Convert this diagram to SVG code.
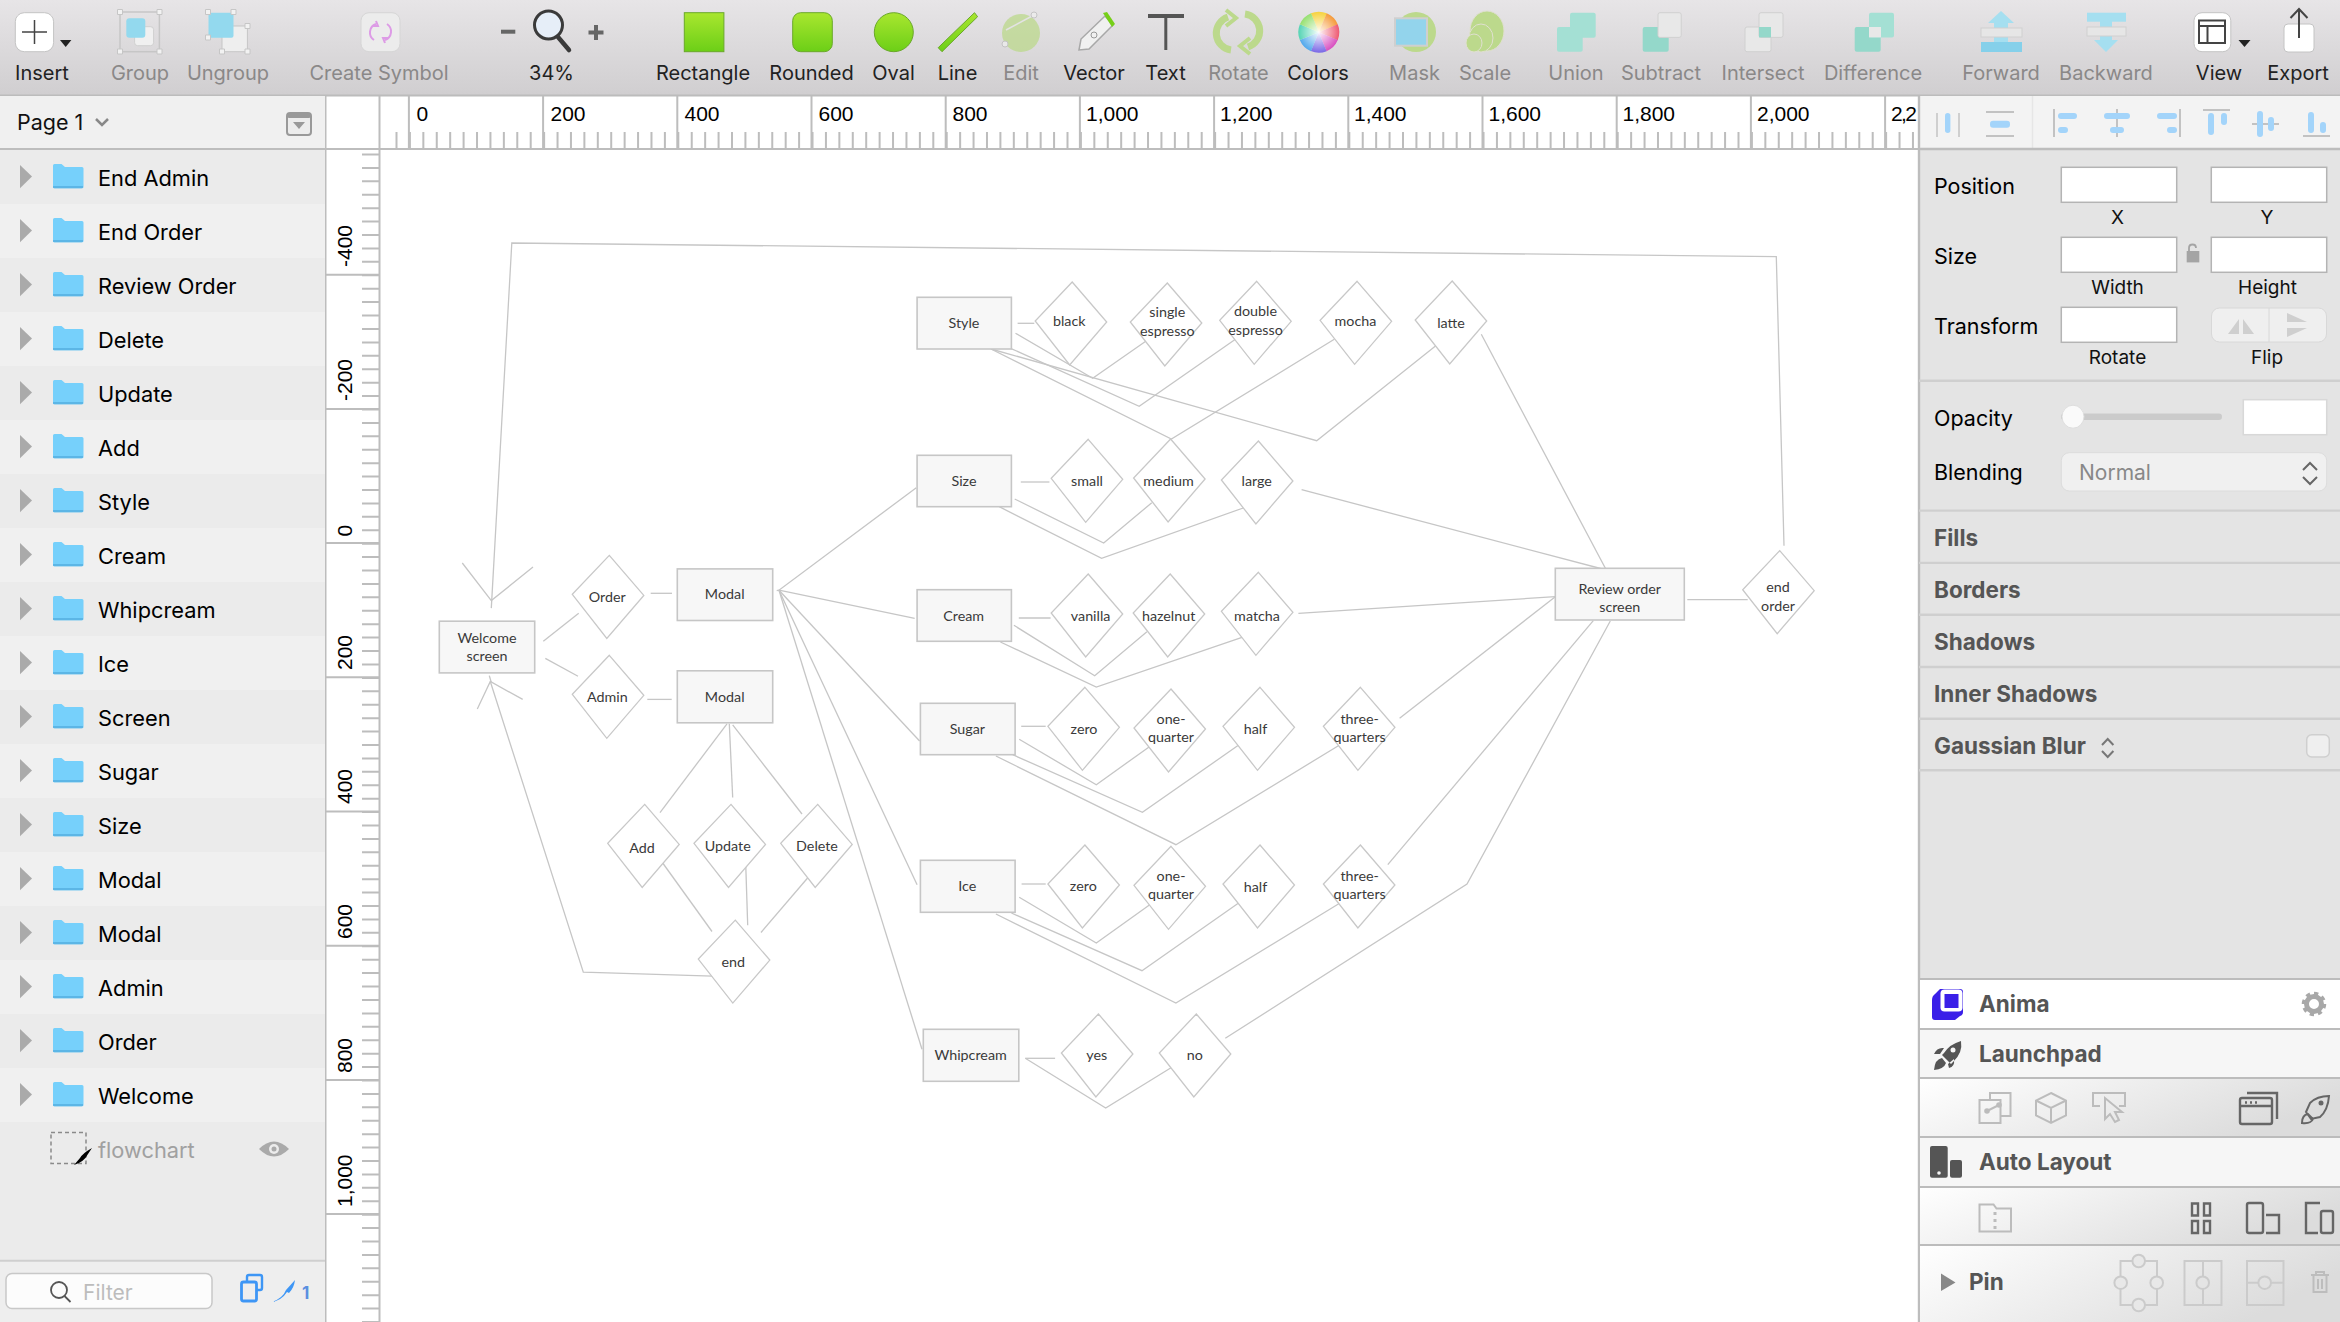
<svg xmlns="http://www.w3.org/2000/svg" width="2340" height="1322" viewBox="0 0 2340 1322">
<style>
.ui{font-family:Inter,"Noto Sans","Liberation Sans",sans-serif}
.tb{font-size:20px;fill:#222;text-anchor:middle}
.tbd{font-size:20px;fill:#8a8888;text-anchor:middle}
.rl{font-family:"Liberation Sans",Arial,sans-serif;font-size:21px;fill:#000}
.ly{font-size:21.800px;fill:#000}
.lb{font-size:21.500px;fill:#000}
.sm{font-size:19px;fill:#111;text-anchor:middle}
.hd{font-size:22.500px;font-weight:700;fill:#555}
.tick{stroke:#bdbdbd;stroke-width:2;fill:none}
.div{stroke:#cfcfcf;stroke-width:2.400}
.inp{fill:#fff;stroke:#b4b4b4;stroke-width:1.500}
.ic{fill:none;stroke:#bcbcbc;stroke-width:2}
.icd{fill:none;stroke:#666;stroke-width:2.400}
.al{fill:#a3d4fa}
.ag{fill:#c2c2c2}
.cn{fill:none;stroke:#c6c6c6;stroke-width:1.300}
.nr{fill:#f7f7f7;stroke:#c6c6c6;stroke-width:1.600}
.nd{fill:#fff;stroke:#c8c8c8;stroke-width:1.300}
.nt{font-family:Lato,"Noto Sans",sans-serif;font-size:14.300px;font-weight:400;fill:#3a3a3a;text-anchor:middle;transform:translateY(.7px)}
</style>
<defs>
<linearGradient id="gTool" x1="0" y1="0" x2="0" y2="1"><stop offset="0" stop-color="#e7e5e7"/><stop offset="1" stop-color="#d0ced0"/></linearGradient>
<linearGradient id="gGreen" x1="0" y1="0" x2="0" y2="1"><stop offset="0" stop-color="#a9e62f"/><stop offset="1" stop-color="#6ccf17"/></linearGradient>
<linearGradient id="gFade" x1="0" y1="0" x2="1" y2="0.35"><stop offset="0" stop-color="#fff"/><stop offset="1" stop-color="#dcdcdc"/></linearGradient>
<radialGradient id="gWhite"><stop offset="0" stop-color="#fff" stop-opacity=".95"/><stop offset="1" stop-color="#fff" stop-opacity="0"/></radialGradient>
<g id="folder"><path d="M53 187.500V165.500q0-1.500 1.500-1.500h7l3.500 3h17q1.500 0 1.500 1.500V187q0 1.300-1.500 1.300H54.500q-1.500 0-1.500-.8z" fill="#76d0fb"/><path d="M53 186h30v1.500q0 .8-1.500.8H54.500q-1.500 0-1.500-.8z" fill="#5cb6e6"/></g>
<g id="row"><path d="M20 165l12 11.500-12 11.700z" fill="#aaa"/><use href="#folder"/></g>
<polygon id="d" points="0,0 34.500,40 -2.500,83 -37,39"/>
</defs>

<g id="canvas-bg"><rect width="2340" height="1322" fill="#fff"/></g>

<g id="toolbar">
<rect width="2340" height="96" fill="url(#gTool)"/>
<line x1="0" y1="95.500" x2="2340" y2="95.500" stroke="#bcbcbc" stroke-width="2"/>
<rect x="15.300" y="12.700" width="38.300" height="39" rx="9" fill="#fff" stroke="#c4c4c4"/>
<path d="M34.500 20v24M22 32h25" stroke="#444" stroke-width="1.500"/>
<path d="M60 40h11.400l-5.700 7z" fill="#222"/>
<g id="ic-group">
<rect x="120" y="12" width="39.400" height="39.700" fill="none" stroke="#c6c6c6" stroke-width="1.500"/>
<path d="M117.500 9.500h5v5h-5zM157 9.500h5v5h-5zM117.500 49h5v5h-5zM157 49h5v5h-5z" fill="#f2f2f2" stroke="#c6c6c6"/>
<rect x="134.600" y="26.700" width="19" height="19" rx="3" fill="#f0f0f0" stroke="#d0d0d0"/>
<rect x="126.300" y="18.300" width="19" height="19.400" rx="3" fill="#93d9ee"/>
</g>
<g id="ic-ungroup">
<rect x="222" y="26" width="25.400" height="25.700" fill="#eee" stroke="#c6c6c6"/>
<rect x="208.500" y="12.700" width="25" height="25" rx="2" fill="#93d9ee"/>
<path d="M205.500 9.500h5v5h-5zM231 9.500h5v5h-5zM205.500 35h5v5h-5zM245 23.500h5v5h-5zM219.500 49h5v5h-5zM245 49h5v5h-5z" fill="#f2f2f2" stroke="#c6c6c6"/>
</g>
<rect x="361" y="12.700" width="39" height="39" rx="8" fill="#ececec" stroke="#d6d6d6"/>
<path d="M376 24a9 9 0 0 0-2 16M385 40a9 9 0 0 0 2-16M372 26h6l-2-5M389 38h-6l2 5" fill="none" stroke="#dd9be6" stroke-width="2"/>
<path d="M501 31.700h14.300" stroke="#666" stroke-width="4"/>
<circle cx="548.500" cy="25" r="14" fill="#e6eef8" stroke="#3a3a3a" stroke-width="3"/>
<path d="M558 37l11 13" stroke="#3a3a3a" stroke-width="4.500" stroke-linecap="round"/>
<path d="M596 25v15M588.500 32.500h15" stroke="#666" stroke-width="4"/>
<rect x="684.300" y="12.700" width="39.600" height="39" fill="url(#gGreen)" stroke="#6aa82a"/>
<rect x="792.700" y="12.700" width="39.600" height="39" rx="8" fill="url(#gGreen)" stroke="#6aa82a"/>
<ellipse cx="893.800" cy="32.200" rx="19.500" ry="19.500" fill="url(#gGreen)" stroke="#6aa82a"/>
<path d="M974.500 12.700l3.100 4-35.600 35-3.800-4z" fill="url(#gGreen)" stroke="#6aa82a"/>
<g id="ic-edit" opacity=".75"><ellipse cx="1021" cy="33" rx="19" ry="19" fill="#bcd98c"/><path d="M1034 15L1006 30" stroke="#e4e4e4" stroke-width="1.500"/><circle cx="1034" cy="15" r="3" fill="#eee" stroke="#bbb"/><circle cx="1005" cy="44" r="3" fill="#eee" stroke="#bbb"/></g>
<g id="ic-vector"><path d="M1105 16l8 9-24 24-10 1 2-11z" fill="#f0f0f0" stroke="#a8a8a8" stroke-width="1.500"/><path d="M1103 13l4-1 8 12-3 3z" fill="#76cf18"/><circle cx="1094" cy="35" r="3" fill="none" stroke="#999"/></g>
<path d="M1148 16h36" stroke="#555" stroke-width="4"/><path d="M1165.800 16v34" stroke="#555" stroke-width="3"/>
<g id="ic-rotate" fill="none" stroke="#bcd98c" stroke-width="7"><path d="M1228 17a17 17 0 0 0 3 33"/><path d="M1248 47a17 17 0 0 0-3-33"/><path d="M1226 10l10 8-10 8M1250 38l-10 8 10 8" stroke-width="4"/></g>
<g id="ic-colors">
<g fill="none" stroke-width="20.500">
<circle cx="1318.800" cy="32.200" r="10.250" stroke="#f6d23c" stroke-dasharray="8.050 56.350" transform="rotate(-112.500 1318.800 32.200)"/>
<circle cx="1318.800" cy="32.200" r="10.250" stroke="#f59a3a" stroke-dasharray="8.050 56.350" transform="rotate(-67.500 1318.800 32.200)"/>
<circle cx="1318.800" cy="32.200" r="10.250" stroke="#ee5a72" stroke-dasharray="8.050 56.350" transform="rotate(-22.500 1318.800 32.200)"/>
<circle cx="1318.800" cy="32.200" r="10.250" stroke="#d84fc0" stroke-dasharray="8.050 56.350" transform="rotate(22.500 1318.800 32.200)"/>
<circle cx="1318.800" cy="32.200" r="10.250" stroke="#7a68e6" stroke-dasharray="8.050 56.350" transform="rotate(67.500 1318.800 32.200)"/>
<circle cx="1318.800" cy="32.200" r="10.250" stroke="#52a8ec" stroke-dasharray="8.050 56.350" transform="rotate(112.500 1318.800 32.200)"/>
<circle cx="1318.800" cy="32.200" r="10.250" stroke="#55d4b4" stroke-dasharray="8.050 56.350" transform="rotate(157.500 1318.800 32.200)"/>
<circle cx="1318.800" cy="32.200" r="10.250" stroke="#96e070" stroke-dasharray="8.050 56.350" transform="rotate(202.500 1318.800 32.200)"/>
</g>
<circle cx="1318.800" cy="32.200" r="20.500" fill="url(#gWhite)"/>
</g>
<g id="ic-mask"><ellipse cx="1416" cy="32" rx="20" ry="20" fill="#bcd98c"/><rect x="1395" y="18.300" width="32" height="27.400" fill="#93d4ec" stroke="#cfcfcf" stroke-width="2"/></g>
<g id="ic-scale" fill="#bcd98c" stroke="#e0e0d0"><ellipse cx="1487" cy="31" rx="17" ry="20"/><ellipse cx="1481" cy="38" rx="12" ry="14"/><ellipse cx="1474" cy="43" rx="8" ry="9"/></g>
<g id="ic-union" fill="#a4e0d4"><rect x="1570" y="12.700" width="25.700" height="25" rx="2"/><rect x="1557" y="27" width="25.700" height="24.700" rx="2"/></g>
<g id="ic-subtract"><rect x="1642.700" y="27" width="26" height="24.700" rx="2" fill="#94d8ca"/><rect x="1658" y="12.700" width="23.200" height="24.700" rx="2" fill="#e8e8e8" stroke="#d0d0d0"/></g>
<g id="ic-intersect"><rect x="1745" y="27" width="26" height="24.700" rx="2" fill="#e8e8e8" stroke="#d0d0d0"/><rect x="1759" y="12.700" width="24" height="24.700" rx="2" fill="#e8e8e8" stroke="#d0d0d0"/><rect x="1759" y="27" width="12" height="10.400" fill="#94d8ca"/></g>
<g id="ic-difference"><rect x="1854.700" y="27" width="26" height="24.700" rx="2" fill="#94d8ca"/><rect x="1869" y="12.700" width="25" height="24.700" rx="2" fill="#a4e0d4"/><rect x="1869" y="27" width="12" height="10.400" fill="#e8e8e8"/></g>
<g id="ic-forward"><path d="M1994 45h14V23h6l-13-12-13 12h6z" fill="#a5dff0"/><rect x="1981" y="42" width="41" height="10" fill="#85d0ea"/><rect x="1981" y="28" width="41" height="9" fill="#e6e6e6" stroke="#d0d0d0"/></g>
<g id="ic-backward"><path d="M2100 18h12v22h6l-12 12-12-12h6z" fill="#a5dff0"/><rect x="2087" y="12.700" width="39" height="9" fill="#a5dff0"/><rect x="2087" y="27" width="39" height="9" fill="#e6e6e6" stroke="#d0d0d0"/></g>
<rect x="2194" y="12.700" width="36.800" height="39" rx="8" fill="#fff" stroke="#c4c4c4"/>
<path d="M2199 20.500h26V43h-26zM2199 26h26M2207.500 26V43" fill="none" stroke="#444" stroke-width="2"/>
<path d="M2238.500 40h12l-6 7z" fill="#222"/>
<rect x="2284" y="24" width="30" height="28" rx="4" fill="#fff" stroke="#c4c4c4"/>
<path d="M2299 38V10M2290.500 18l8.500-9 8.500 9" fill="none" stroke="#444" stroke-width="2"/>
<g class="ui">
<text x="42" y="79.700" class="tb">Insert</text>
<text x="140" y="79.700" class="tbd">Group</text>
<text x="228" y="79.700" class="tbd">Ungroup</text>
<text x="379" y="79.700" class="tbd">Create Symbol</text>
<text x="551.500" y="79.700" class="tb">34%</text>
<text x="703" y="79.700" class="tb">Rectangle</text>
<text x="811.500" y="79.700" class="tb">Rounded</text>
<text x="893.500" y="79.700" class="tb">Oval</text>
<text x="957.500" y="79.700" class="tb">Line</text>
<text x="1021" y="79.700" class="tbd">Edit</text>
<text x="1094" y="79.700" class="tb">Vector</text>
<text x="1165.500" y="79.700" class="tb">Text</text>
<text x="1238.500" y="79.700" class="tbd">Rotate</text>
<text x="1318" y="79.700" class="tb">Colors</text>
<text x="1414.500" y="79.700" class="tbd">Mask</text>
<text x="1485" y="79.700" class="tbd">Scale</text>
<text x="1576" y="79.700" class="tbd">Union</text>
<text x="1661" y="79.700" class="tbd">Subtract</text>
<text x="1763" y="79.700" class="tbd">Intersect</text>
<text x="1873" y="79.700" class="tbd">Difference</text>
<text x="2001" y="79.700" class="tbd">Forward</text>
<text x="2106" y="79.700" class="tbd">Backward</text>
<text x="2219" y="79.700" class="tb">View</text>
<text x="2298" y="79.700" class="tb">Export</text>
</g>
</g>

<g id="rulers">
<path d="M395.500 140.500H1919" class="tick" style="stroke-width:17" stroke-dasharray="2 11.420"/>
<path d="M370.500 153.500V1322" class="tick" style="stroke-width:17" stroke-dasharray="2 11.420"/>
<path d="M408.900 96v53M543.100 96v53M677.300 96v53M811.500 96v53M945.700 96v53M1079.900 96v53M1214.100 96v53M1348.300 96v53M1482.500 96v53M1616.700 96v53M1750.900 96v53M1885.100 96v53" class="tick"/>
<path d="M325 274.700h54M325 408.900h54M325 543.100h54M325 677.300h54M325 811.500h54M325 945.700h54M325 1079.900h54M325 1214.100h54" class="tick"/>
<path d="M325 149H1919M379.500 96V1322M325.500 96V1322" class="tick"/>
<g class="rl">
<text x="416.500" y="121">0</text><text x="550.500" y="121">200</text><text x="684.500" y="121">400</text><text x="818.500" y="121">600</text><text x="952.500" y="121">800</text>
<text x="1086" y="121">1,000</text><text x="1220" y="121">1,200</text><text x="1354" y="121">1,400</text><text x="1488.500" y="121">1,600</text><text x="1622.500" y="121">1,800</text><text x="1757" y="121">2,000</text>
<text x="1891" y="121" textLength="26">2,2</text>
<text transform="translate(352 267) rotate(-90)">-400</text>
<text transform="translate(352 401) rotate(-90)">-200</text>
<text transform="translate(352 536.500) rotate(-90)">0</text>
<text transform="translate(352 670) rotate(-90)">200</text>
<text transform="translate(352 804) rotate(-90)">400</text>
<text transform="translate(352 939) rotate(-90)">600</text>
<text transform="translate(352 1073) rotate(-90)">800</text>
<text transform="translate(352 1207) rotate(-90)">1,000</text>
</g>
</g>

<g id="layers-panel">
<rect x="0" y="96" width="325" height="1226" fill="#f0f0f0"/>
<path d="M0 149h325" stroke="#bdbdbd" stroke-width="2"/>
<g fill="#ebebeb">
<rect y="150" width="325" height="54"/><rect y="258" width="325" height="54"/><rect y="366" width="325" height="54"/><rect y="474" width="325" height="54"/><rect y="582" width="325" height="54"/><rect y="690" width="325" height="54"/><rect y="798" width="325" height="54"/><rect y="906" width="325" height="54"/><rect y="1014" width="325" height="54"/><rect y="1122" width="325" height="139"/>
</g>
<text class="ui" x="17" y="130" font-size="21.500" fill="#111">Page 1</text>
<path d="M96 119l6 6 6-6" fill="none" stroke="#888" stroke-width="2.500"/>
<rect x="287" y="113" width="24" height="22" rx="3" fill="#ececec" stroke="#999" stroke-width="2"/><rect x="287" y="113" width="24" height="5" rx="2" fill="#999"/><path d="M293 122h12l-6 7z" fill="#999"/>
<use href="#row"/><use href="#row" y="54"/><use href="#row" y="108"/><use href="#row" y="162"/><use href="#row" y="216"/><use href="#row" y="270"/><use href="#row" y="324"/><use href="#row" y="378"/><use href="#row" y="432"/><use href="#row" y="486"/><use href="#row" y="540"/><use href="#row" y="594"/><use href="#row" y="648"/><use href="#row" y="702"/><use href="#row" y="756"/><use href="#row" y="810"/><use href="#row" y="864"/><use href="#row" y="918"/>
<g class="ui">
<text class="ly" x="98" y="185.700">End Admin</text>
<text class="ly" x="98" y="239.700">End Order</text>
<text class="ly" x="98" y="293.700">Review Order</text>
<text class="ly" x="98" y="347.700">Delete</text>
<text class="ly" x="98" y="401.700">Update</text>
<text class="ly" x="98" y="455.700">Add</text>
<text class="ly" x="98" y="509.700">Style</text>
<text class="ly" x="98" y="563.700">Cream</text>
<text class="ly" x="98" y="617.700">Whipcream</text>
<text class="ly" x="98" y="671.700">Ice</text>
<text class="ly" x="98" y="725.700">Screen</text>
<text class="ly" x="98" y="779.700">Sugar</text>
<text class="ly" x="98" y="833.700">Size</text>
<text class="ly" x="98" y="887.700">Modal</text>
<text class="ly" x="98" y="941.700">Modal</text>
<text class="ly" x="98" y="995.700">Admin</text>
<text class="ly" x="98" y="1049.700">Order</text>
<text class="ly" x="98" y="1103.700">Welcome</text>
<text class="ly" x="98" y="1157.700" style="fill:#a0a0a0">flowchart</text>
</g>
<rect x="51" y="1132.500" width="35" height="31" fill="none" stroke="#8a8a8a" stroke-width="1.500" stroke-dasharray="4 3"/>
<path d="M74 1165q10-3 14-11l4-6q-9 5-12 10z" fill="#000"/>
<path d="M259 1149q15-15 30 0q-15 15-30 0z" fill="#aaa"/><circle cx="274" cy="1149" r="5" fill="#ececec"/><circle cx="274" cy="1149" r="2.500" fill="#aaa"/>
<path d="M0 1260.700h325" stroke="#cfcfcf" stroke-width="2"/>
<rect x="0" y="1262" width="325" height="60" fill="#eeeeee"/>
<rect x="6" y="1273.500" width="206" height="35" rx="6" fill="#fcfcfc" stroke="#c8c8c8" stroke-width="1.500"/>
<circle cx="59" cy="1290" r="8" fill="none" stroke="#555" stroke-width="1.800"/><path d="M64.500 1296l6 6" stroke="#555" stroke-width="1.800"/>
<text class="ui" x="83" y="1300" font-size="21" fill="#bcbcbc">Filter</text>
<path d="M247 1282v-5q0-2 2-2h11q2 0 2 2v11q0 2-2 2h-3" fill="none" stroke="#3e96f5" stroke-width="2.400"/><rect x="241.500" y="1282" width="15" height="19" rx="2" fill="none" stroke="#3e96f5" stroke-width="2.800"/>
<path d="M272 1302q11-4 14-12l9-10q-1 8-6 13l-2-1q-5 8-15 10z" fill="#3e96f5"/>
<text class="ui" x="302" y="1299" font-size="17" font-weight="700" fill="#5a8fe0">1</text>
</g>

<g id="inspector">
<rect x="1919" y="96" width="421" height="1226" fill="#e4e4e4"/>
<rect x="1919" y="96" width="421" height="53" fill="#f3f3f3"/>
<path d="M2032.500 96v53" stroke="#e6e6e6" stroke-width="1.500"/>
<path d="M1919 149h421M1919 96v1226" stroke="#bdbdbd" stroke-width="2.400" fill="none"/>
<g id="align-icons">
<rect x="1945" y="113" width="5.400" height="20" rx="2.700" class="al"/><path d="M1937 113v24M1959 113v24" stroke="#c4c4c4" stroke-width="1.500"/>
<rect x="1990" y="120.700" width="20" height="7" rx="3" class="al"/><rect x="1986" y="111" width="28" height="2" class="ag"/><rect x="1986" y="135" width="28" height="2" class="ag"/>
<rect x="2053" y="109" width="2" height="28" class="ag"/><rect x="2058" y="113" width="19" height="6" rx="3" class="al"/><rect x="2058" y="127" width="10" height="6" rx="3" class="al"/>
<rect x="2116" y="109" width="2" height="28" class="ag"/><rect x="2104" y="113" width="26" height="6" rx="3" class="al"/><rect x="2110" y="127" width="14" height="6" rx="3" class="al"/>
<rect x="2179" y="109" width="2" height="28" class="ag"/><rect x="2157" y="113" width="20" height="6" rx="3" class="al"/><rect x="2167" y="127" width="10" height="6" rx="3" class="al"/>
<rect x="2203" y="109" width="27" height="2" class="ag"/><rect x="2208" y="113" width="6" height="22" rx="3" class="al"/><rect x="2221" y="113" width="6" height="12" rx="3" class="al"/>
<rect x="2252" y="123" width="27" height="2" class="ag"/><rect x="2257" y="111" width="6" height="26" rx="3" class="al"/><rect x="2268" y="117" width="6" height="14" rx="3" class="al"/>
<rect x="2303" y="135" width="27" height="2" class="ag"/><rect x="2308" y="112" width="6" height="21" rx="3" class="al"/><rect x="2320" y="122" width="6" height="11" rx="3" class="al"/>
</g>
<rect x="2061.300" y="167.300" width="115.400" height="35" class="inp"/><rect x="2211.300" y="167.300" width="115.400" height="35" class="inp"/>
<rect x="2061.300" y="237.300" width="115.400" height="35" class="inp"/><rect x="2211.300" y="237.300" width="115.400" height="35" class="inp"/>
<rect x="2061.300" y="307.300" width="115.400" height="35" class="inp"/>
<rect x="2211.500" y="308" width="115" height="34" rx="8" fill="#efefef" stroke="#d8d8d8"/><path d="M2269 308v34" stroke="#d8d8d8"/>
<path d="M2228 334l11-15v15zM2254 334l-11-15v15z" fill="#cfcfcf"/><path d="M2287 313l20 9h-20zM2287 337l20-9h-20z" fill="#cfcfcf"/>
<rect x="2186.700" y="251" width="12.600" height="11.400" fill="#a4a4a4"/><path d="M2189 251v-3q0-3.500 3.500-3.500t3.500 3.500" fill="none" stroke="#a4a4a4" stroke-width="1.800"/>
<path d="M1919 380.800h421M1919 510.600h421M1919 562.900h421M1919 614.700h421M1919 667h421M1919 718.800h421M1919 770.200h421" class="div"/>
<rect x="2061" y="413.500" width="161" height="6.500" rx="3.200" fill="#cbcbcb"/>
<ellipse cx="2073" cy="416.700" rx="11" ry="11.500" fill="#fafafa" stroke="#dedede"/>
<rect x="2243.300" y="399.700" width="83.400" height="35" class="inp" style="stroke:#d8d8d8"/>
<rect x="2061.300" y="452.700" width="265.400" height="38.300" rx="8" fill="#f0f0f0" stroke="#dcdcdc"/>
<path d="M2303 470l7-7 7 7M2303 477l7 7 7-7" fill="none" stroke="#666" stroke-width="2"/>
<path d="M2102 745l5.700-6 5.700 6M2102 751l5.700 6 5.700-6" fill="none" stroke="#777" stroke-width="2"/>
<rect x="2306.700" y="734.700" width="22.600" height="22.300" rx="5" fill="#efefef" stroke="#cfcfcf" stroke-width="1.500"/>
<g id="plugins">
<rect x="1920" y="980" width="420" height="49" fill="#fff"/>
<rect x="1920" y="1029" width="420" height="49" fill="#f6f6f6"/>
<rect x="1920" y="1078" width="420" height="59" fill="url(#gFade)"/>
<rect x="1920" y="1137" width="420" height="50" fill="#f6f6f6"/>
<rect x="1920" y="1187" width="420" height="58" fill="url(#gFade)"/>
<rect x="1920" y="1245" width="420" height="77" fill="url(#gFade)"/>
<path d="M1919 979h421M1919 1029h421M1919 1078h421M1919 1137h421M1919 1187h421M1919 1245h421" stroke="#bcbcbc" stroke-width="2"/>
<path d="M1932 1000q0-4 3-6l5-5h20q3 0 3 3v20q0 3-3 4l-5 4h-20q-3 0-3-3z" fill="#3a1fe8"/>
<rect x="1940.500" y="989.500" width="22" height="22" rx="4" fill="#fff"/><rect x="1944.500" y="994" width="14" height="14" fill="#3a1fe8"/>
<circle cx="2314" cy="1004" r="7.500" fill="none" stroke="#a8a8a8" stroke-width="5"/><circle cx="2314" cy="1004" r="10.500" fill="none" stroke="#a8a8a8" stroke-width="3.500" stroke-dasharray="4.200 4"/>
<path d="M1961 1041q2 12-8 21l-2 2-9-9 2-2q6-9 17-12zM1934 1070q1-11 8-12l4 5q-2 6-12 7zM1934 1054q3-7 10-6l-4 6zM1949 1068q6-1 5-9l-6 5z" fill="#555"/><circle cx="1953" cy="1050" r="2.500" fill="#f6f6f6"/>
<rect x="1930" y="1146" width="17.700" height="31.700" rx="2" fill="#555"/><rect x="1950" y="1160" width="12" height="17.700" rx="2" fill="#555"/><circle cx="1939" cy="1173" r="1.800" fill="#f6f6f6"/>
<g id="plugin-row1">
<path d="M1990 1100v-7h20.500v23h-10M1979.500 1100h21v23h-21z" class="ic"/><circle cx="1987" cy="1111" r="2.800" fill="#bcbcbc"/><circle cx="1999" cy="1105" r="2.800" fill="#bcbcbc"/><path d="M1987 1111l12-6" class="ic"/>
<path d="M2051 1093l15 7.500v15l-15 7.500-15-7.500v-15zM2036 1100.500l15 7.500 15-7.500M2051 1108v15" class="ic"/>
<path d="M2100 1106h-7v-13h32v13h-6" class="ic"/><path d="M2105 1098v21l5-5 5 8 4-2-4-8h7z" class="ic"/>
<rect x="2240" y="1098" width="32" height="26" rx="2" class="icd"/><path d="M2240 1106h32M2247 1093h30v26" class="icd"/><path d="M2245 1102.500h2M2250 1102.500h2M2255 1102.500h2" class="icd"/>
<path d="M2329 1096q-1 14-9 21l-9 2-5-7 4-9q7-7 19-7zM2302 1123q0-8 6-9l5 5q-2 5-11 4z" class="icd" style="stroke-width:2"/><circle cx="2321" cy="1103" r="2.500" fill="#666"/>
</g>
<g id="plugin-row2">
<path d="M1979.500 1204.500h14l3 4h14.500v23h-31.500z" class="ic"/><path d="M1995 1212v3M1995 1219v3M1995 1226v3" stroke="#bcbcbc" stroke-width="3"/>
<path d="M2192 1203.500h6v12h-6zM2204 1203.500h6v12h-6zM2192 1221h6v12h-6zM2204 1221h6v12h-6z" class="icd"/>
<rect x="2247" y="1203" width="16" height="30" rx="2" class="icd"/><path d="M2266 1215h13v18h-13" class="icd"/>
<path d="M2320 1203h-14v30h12" class="icd"/><rect x="2321" y="1211" width="12" height="22" rx="2" class="icd"/>
</g>
<path d="M1941 1273.500l14.500 9-14.500 8.500z" fill="#888"/>
<g id="pin-icons" fill="none" stroke="#cbcbcb" stroke-width="2">
<rect x="2120.500" y="1261" width="36.500" height="44"/>
<circle cx="2138.700" cy="1261" r="6.300" fill="#e8e8e8"/><circle cx="2138.700" cy="1305" r="6.300" fill="#e8e8e8"/><circle cx="2120.700" cy="1282.700" r="6.300" fill="#e8e8e8"/><circle cx="2156.700" cy="1282.700" r="6.300" fill="#e8e8e8"/>
<rect x="2184.500" y="1261" width="37" height="44"/><path d="M2203 1261v44"/><circle cx="2202.700" cy="1282.700" r="6.300" fill="#e4e4e4"/>
<rect x="2247" y="1261" width="36.500" height="44"/><path d="M2247 1282.700h36.500"/><circle cx="2264.700" cy="1282.700" r="6.300" fill="#e2e2e2"/>
<path d="M2311 1275h18M2316 1275v-3h8v3M2313.500 1275v17h13v-17M2318 1279v10M2322 1279v10" stroke="#bdbdbd"/>
</g>
</g>
<g class="ui">
<text class="lb" x="1934" y="194">Position</text>
<text class="lb" x="1934" y="263.700">Size</text>
<text class="lb" x="1934" y="334">Transform</text>
<text class="lb" x="1934" y="425.700">Opacity</text>
<text class="lb" x="1934" y="480">Blending</text>
<text class="sm" x="2117.500" y="223.700">X</text><text class="sm" x="2267" y="223.700">Y</text>
<text class="sm" x="2117.500" y="294.300">Width</text><text class="sm" x="2267.500" y="294.300">Height</text>
<text class="sm" x="2117.500" y="364">Rotate</text><text class="sm" x="2267" y="364">Flip</text>
<text x="2079" y="480" font-size="21" fill="#888">Normal</text>
<text class="hd" x="1934" y="546">Fills</text>
<text class="hd" x="1934" y="598">Borders</text>
<text class="hd" x="1934" y="650">Shadows</text>
<text class="hd" x="1934" y="702">Inner Shadows</text>
<text class="hd" x="1934" y="754">Gaussian Blur</text>
<text class="hd" x="1979" y="1012">Anima</text>
<text class="hd" x="1979" y="1062">Launchpad</text>
<text class="hd" x="1979" y="1170">Auto Layout</text>
<text class="hd" x="1969" y="1290">Pin</text>
</g>
</g>

<g id="connectors" class="cn">
<path d="M1784 545.700L1776.300 256.700 511.800 243 491.300 608.100"/>
<path d="M462.300 563L491.300 600.600 533 567.100"/>
<path d="M543.300 641.200L578.700 613.300"/>
<path d="M545.300 658.400L578 676.300"/>
<path d="M650.700 593.300H672"/>
<path d="M647.300 699.400H671.700"/>
<path d="M727 723.800L660 812.700"/>
<path d="M729.300 723.800L732.700 797.500"/>
<path d="M732.700 724.900L802 814"/>
<path d="M662.700 863L712 931.500"/>
<path d="M745.700 863.600L747.700 925.300"/>
<path d="M809.300 876L761 932.500"/>
<path d="M712.700 976.200L583.300 972.100 490.300 681.500"/>
<path d="M477.300 709L490.300 681.500 522.700 699.400"/>
<path d="M489.300 675.600L491.300 682.500"/>
<path d="M776.700 590.600L779 590.200 916.300 487.700"/>
<path d="M779 590.200L914.700 618.300"/>
<path d="M779 590.200L919.600 741"/>
<path d="M779 590.200L917.100 884.700"/>
<path d="M779 590.200L922 1049.300"/>
<path d="M1017.600 323.300H1034.300"/>
<path d="M1015.500 333.300L1092.700 378.300 1146.100 341"/>
<path d="M1010.600 348.300L1139.200 406.300 1237.600 337.700"/>
<path d="M991 349L1171.400 439 1334.300 339.300"/>
<path d="M991 349L1316.700 440.700 1435.500 346"/>
<path d="M1481.300 334.300L1606.300 570"/>
<path d="M1301.600 489.700L1606.300 570"/>
<path d="M1298.400 613.300L1555.300 596.700"/>
<path d="M1399.600 718.300L1555.300 596.700"/>
<path d="M1387.800 864.700L1593.300 620.700"/>
<path d="M1225.300 1038.300L1467 884 1610.300 621"/>
<path d="M1687.300 599.700H1747.700"/>
<path d="M1020.800 482H1049.400"/>
<path d="M1014.700 499L1103.700 543 1151.800 502.700"/>
<path d="M999.200 506.700L1101.600 558.300 1243.300 508"/>
<path d="M1018.800 618H1050.600"/>
<path d="M1013.900 625.300L1094.700 675.700 1146.900 631.700"/>
<path d="M1000.400 642L1096.300 687 1242 637.300"/>
<path d="M1021.200 726.300H1045.700"/>
<path d="M1019.200 739.300L1096.300 784.700 1149.400 746.700"/>
<path d="M1012.700 754.700L1142.400 812.300 1241.200 743.300"/>
<path d="M995.900 756L1175.900 844.700 1339.600 745"/>
<path d="M1021.600 884H1045.700"/>
<path d="M1019.200 897.300L1096.300 943 1149.400 905"/>
<path d="M1011.400 913L1142 970.700 1240.400 901.700"/>
<path d="M995.900 914L1175.900 1003 1339.600 903.300"/>
<path d="M1025.300 1058.300H1055.100"/>
<path d="M1025.300 1058.300L1105.700 1108 1171 1067.700"/>
</g>

<g id="n-welcome"><rect x="439.300" y="621.200" width="95.400" height="51.700" class="nr"/><text class="nt" x="487" y="642.200">Welcome</text><text class="nt" x="487" y="660.500">screen</text></g>
<g id="n-modal1"><rect x="677.300" y="568.900" width="95.400" height="51.600" class="nr"/><text class="nt" x="724.700" y="598.800">Modal</text></g>
<g id="n-modal2"><rect x="677.300" y="670.800" width="95.400" height="52" class="nr"/><text class="nt" x="724.700" y="701.100">Modal</text></g>
<g id="n-style"><rect x="917.100" y="297.300" width="94.300" height="51.700" class="nr"/><text class="nt" x="964" y="327">Style</text></g>
<g id="n-size"><rect x="917.100" y="455.300" width="94.300" height="51.400" class="nr"/><text class="nt" x="964" y="485">Size</text></g>
<g id="n-cream"><rect x="917.100" y="589.700" width="94.300" height="51.600" class="nr"/><text class="nt" x="963.700" y="620">Cream</text></g>
<g id="n-sugar"><rect x="920.400" y="703.300" width="94.700" height="51.400" class="nr"/><text class="nt" x="967.300" y="733">Sugar</text></g>
<g id="n-ice"><rect x="920.400" y="860.300" width="94.700" height="52" class="nr"/><text class="nt" x="967.300" y="890">Ice</text></g>
<g id="n-whipcream"><rect x="923.300" y="1029.300" width="95.500" height="52" class="nr"/><text class="nt" x="970.600" y="1059">Whipcream</text></g>
<g id="n-review"><rect x="1555.300" y="568.300" width="129" height="51.700" class="nr"/><text class="nt" x="1619.700" y="593.300">Review order</text><text class="nt" x="1619.700" y="611.300">screen</text></g>

<g id="n-order" transform="translate(609.300 555.400)"><use href="#d" class="nd"/><text class="nt" x="-2" y="45.500">Order</text></g>
<g id="n-admin" transform="translate(609.300 655.300)"><use href="#d" class="nd"/><text class="nt" x="-2" y="46.100">Admin</text></g>
<g id="n-add" transform="translate(644.700 804.400)"><use href="#d" class="nd"/><text class="nt" x="-2.700" y="47.900">Add</text></g>
<g id="n-update" transform="translate(731 804.400)"><use href="#d" class="nd"/><text class="nt" x="-3.300" y="46.200">Update</text></g>
<g id="n-delete" transform="translate(817.700 804.400)"><use href="#d" class="nd"/><text class="nt" x="-0.700" y="46.200">Delete</text></g>
<g id="n-end" transform="translate(735.300 920.100)"><use href="#d" class="nd"/><text class="nt" x="-2" y="45.800">end</text></g>

<g id="n-black" transform="translate(1072.200 282)"><use href="#d" class="nd"/><text class="nt" x="-3" y="43.700">black</text></g>
<g id="n-single" transform="translate(1167.300 283)"><use href="#d" class="nd"/><text class="nt" x="0" y="33.700">single</text><text class="nt" x="0" y="52">espresso</text></g>
<g id="n-double" transform="translate(1256.700 281.300)"><use href="#d" class="nd"/><text class="nt" x="-1.200" y="34.400">double</text><text class="nt" x="-1.200" y="52.700">espresso</text></g>
<g id="n-mocha" transform="translate(1357.100 281.300)"><use href="#d" class="nd"/><text class="nt" x="-1.600" y="44.400">mocha</text></g>
<g id="n-latte" transform="translate(1452.200 281)"><use href="#d" class="nd"/><text class="nt" x="-1.200" y="46">latte</text></g>
<g id="n-small" transform="translate(1088.200 439.300)"><use href="#d" class="nd"/><text class="nt" x="-1.200" y="46">small</text></g>
<g id="n-medium" transform="translate(1170.600 439)"><use href="#d" class="nd"/><text class="nt" x="-2" y="46">medium</text></g>
<g id="n-large" transform="translate(1258.400 441)"><use href="#d" class="nd"/><text class="nt" x="-1.700" y="44.300">large</text></g>
<g id="n-vanilla" transform="translate(1088.200 574)"><use href="#d" class="nd"/><text class="nt" x="2.400" y="46">vanilla</text></g>
<g id="n-hazelnut" transform="translate(1170.200 574)"><use href="#d" class="nd"/><text class="nt" x="-1.600" y="46">hazelnut</text></g>
<g id="n-matcha" transform="translate(1258.400 572.300)"><use href="#d" class="nd"/><text class="nt" x="-1.400" y="47.700">matcha</text></g>
<g id="n-sugar-zero" transform="translate(1084.900 687.300)"><use href="#d" class="nd"/><text class="nt" x="-0.900" y="46">zero</text></g>
<g id="n-sugar-one" transform="translate(1171 689)"><use href="#d" class="nd"/><text class="nt" x="0" y="34.300">one-</text><text class="nt" x="0" y="52.300">quarter</text></g>
<g id="n-sugar-half" transform="translate(1260 687.300)"><use href="#d" class="nd"/><text class="nt" x="-4.500" y="46">half</text></g>
<g id="n-sugar-three" transform="translate(1360.400 687.300)"><use href="#d" class="nd"/><text class="nt" x="-0.800" y="36">three-</text><text class="nt" x="-0.800" y="54">quarters</text></g>
<g id="n-ice-zero" transform="translate(1084.900 845)"><use href="#d" class="nd"/><text class="nt" x="-1.600" y="45.300">zero</text></g>
<g id="n-ice-one" transform="translate(1171 846.300)"><use href="#d" class="nd"/><text class="nt" x="0" y="34">one-</text><text class="nt" x="0" y="52">quarter</text></g>
<g id="n-ice-half" transform="translate(1260 845)"><use href="#d" class="nd"/><text class="nt" x="-4.500" y="46.700">half</text></g>
<g id="n-ice-three" transform="translate(1360.400 845)"><use href="#d" class="nd"/><text class="nt" x="-0.800" y="35.300">three-</text><text class="nt" x="-0.800" y="53.300">quarters</text></g>
<g id="n-yes" transform="translate(1098.400 1014)"><use href="#d" class="nd"/><text class="nt" x="-1.700" y="45.300">yes</text></g>
<g id="n-no" transform="translate(1196.300 1014)"><use href="#d" class="nd"/><text class="nt" x="-1.600" y="45.300">no</text></g>
<g id="n-end-order" transform="translate(1779.700 550.700)"><use href="#d" class="nd"/><text class="nt" x="-1.700" y="40.600">end</text><text class="nt" x="-1.700" y="59.600">order</text></g>
</svg>
